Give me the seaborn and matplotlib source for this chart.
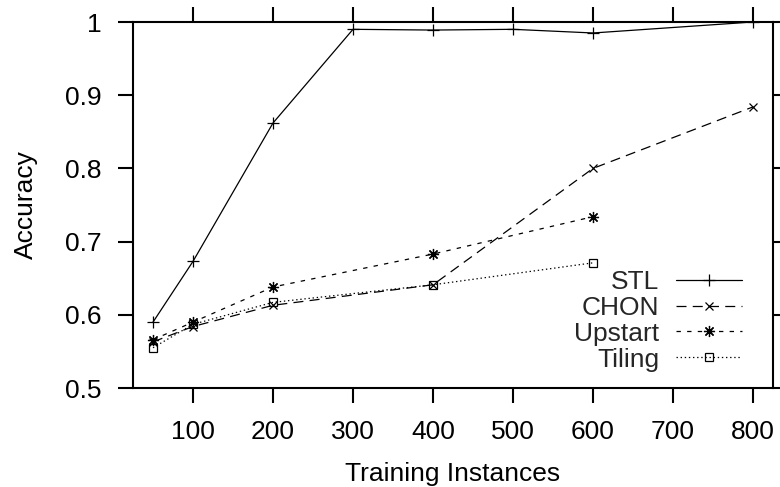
import numpy as np
import pandas as pd
import matplotlib
matplotlib.use("Agg")
import matplotlib.pyplot as plt
import seaborn as sns

# ---- data ----
stl_x = [50, 100, 200, 300, 400, 500, 600, 800]
stl_y = [0.590, 0.673, 0.862, 0.990, 0.989, 0.990, 0.985, 1.000]

chon_x = [50, 100, 200, 400, 600, 800]
chon_y = [0.563, 0.584, 0.613, 0.641, 0.800, 0.884]

upstart_x = [50, 100, 200, 400, 600]
upstart_y = [0.566, 0.590, 0.638, 0.683, 0.734]

tiling_x = [50, 100, 200, 400, 600]
tiling_y = [0.555, 0.587, 0.617, 0.641, 0.671]

x_ticks = [100, 200, 300, 400, 500, 600, 700, 800]
y_ticks = [0.5, 0.6, 0.7, 0.8, 0.9, 1.0]
y_tick_labels = ["0.5", "0.6", "0.7", "0.8", "0.9", "1"]

# ---- style ----
sns.set_theme(style="ticks")
plt.rcParams["font.family"] = ["Liberation Sans", "DejaVu Sans"]
FS = 19

fig = plt.figure(figsize=(7.8, 4.87), dpi=100)
ax = fig.add_axes([133 / 780, 99 / 487, 640 / 780, 366 / 487])

series = [
    ("STL", stl_x, stl_y, "-", "+", 8, "k"),
    ("CHON", chon_x, chon_y, (0, (8, 5)), "x", 6, "k"),
    ("Upstart", upstart_x, upstart_y, (0, (3.5, 5)), (8, 2, 0), 8, "k"),
    ("Tiling", tiling_x, tiling_y, (0, (1.1, 2.2)), "s", 6, "none"),
]

for name, xs, ys, ls, mk, ms, fc in series:
    sns.lineplot(x=xs, y=ys, ax=ax, color="black", linestyle=ls, linewidth=0.9,
                 marker=mk, markersize=ms, markerfacecolor=fc,
                 markeredgecolor="black", markeredgewidth=0.9, label=name)

ax.set_xlim(25, 825)
ax.set_ylim(0.5, 1.0)
ax.set_xticks(x_ticks)
ax.set_yticks(y_ticks)
ax.set_yticklabels(y_tick_labels)

ax.tick_params(direction="out", length=10.8, width=1.5, labelsize=FS,
               top=True, right=True, labeltop=False, labelright=False,
               color="black", labelcolor="black")
ax.tick_params(axis="y", pad=12)
ax.tick_params(axis="x", pad=12)
for s in ax.spines.values():
    s.set_visible(True)
    s.set_linewidth(1.5)
    s.set_color("black")

ax.set_xlabel("Training Instances", fontsize=FS, color="black", labelpad=13)
ax.set_ylabel("Accuracy", fontsize=FS, color="black", labelpad=19)

leg = ax.legend(loc="lower right", bbox_to_anchor=(0.952, 0.045), frameon=False,
                markerfirst=False, fontsize=FS, handlelength=2.5,
                handletextpad=0.65, labelspacing=0.07, borderpad=0,
                borderaxespad=0, numpoints=1)

fig.savefig("out.png", dpi=100)
